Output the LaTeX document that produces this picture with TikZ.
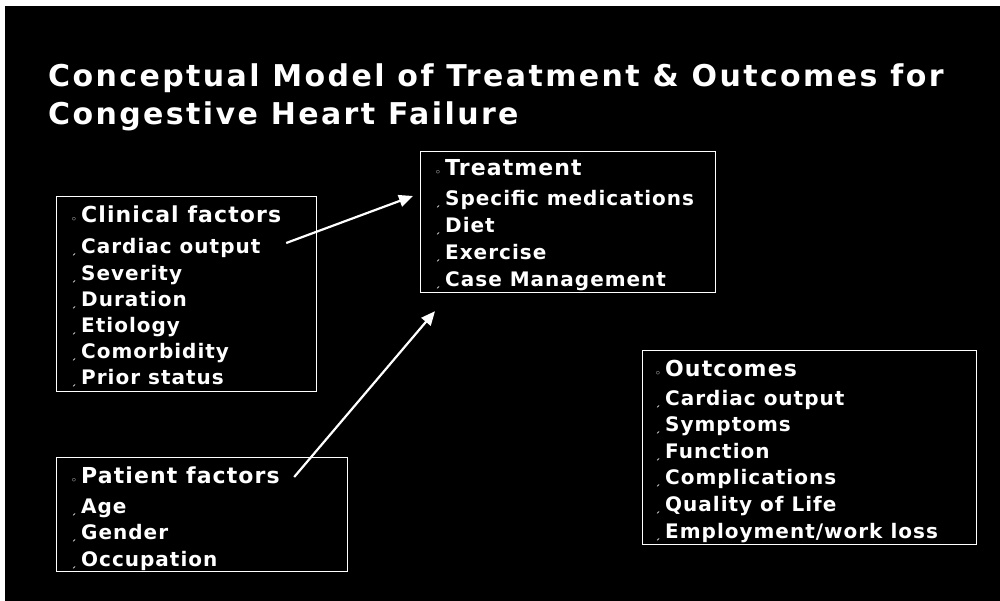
\documentclass[tikz,border=0pt]{standalone}
\usepackage{fontspec}
\setmainfont{DejaVu Sans}
\newfontfamily\titlefont{DejaVu Sans Bold}[LetterSpace=8]
\newfontfamily\boxfont{DejaVu Sans Bold}[LetterSpace=5]
\usetikzlibrary{arrows.meta}

\newcommand{\hdbul}{\makebox[10pt][l]{\fontsize{9}{9}\selectfont ◦}}
\newcommand{\itbul}{\makebox[10pt][l]{\fontsize{10}{10}\selectfont ˏ}}

\begin{document}
\begin{tikzpicture}
  [x=1pt, y=-1pt,
   title/.style={text=white, anchor=base west, inner sep=0pt, font=\titlefont\fontsize{30}{34}\selectfont},
   box/.style={draw=white, line width=1.2pt, anchor=north west, inner sep=0pt},
   head/.style={text=white, anchor=base west, inner sep=0pt, font=\boxfont\fontsize{22}{26}\selectfont},
   entry/.style={text=white, anchor=base west, inner sep=0pt, font=\boxfont\fontsize{20}{24}\selectfont},
   link/.style={draw=white, line width=2.2pt, -{Triangle[length=14pt,width=12pt]}}]
  \fill[white] (0,0) rectangle (1000,601);
  \fill[black] (5,6) rectangle (1000,601);
  \useasboundingbox (0,0) rectangle (1000,601);

  % title
  \node[title] (title1) at (48,87) {Conceptual Model of Treatment \& Outcomes for};
  \node[title] (title2) at (48,125) {Congestive Heart Failure};

  % clinical factors
  \node[box, minimum width=260pt, minimum height=195pt] (clin) at (56,196) {};
  \node[head] (clinhd) at (71,223) {\hdbul Clinical factors};
  \foreach \t [count=\i] in {Cardiac output, Severity, Duration, Etiology, Comorbidity, Prior status}
    \node[entry] (clin\i) at (71,{254+26*(\i-1)}) {\itbul\t};

  % treatment
  \node[box, minimum width=295pt, minimum height=141pt] (treat) at (420,151) {};
  \node[head] (treathd) at (435,176) {\hdbul Treatment};
  \foreach \t [count=\i] in {Specific medications, Diet, Exercise, Case Management}
    \node[entry] (treat\i) at (435,{206+26.7*(\i-1)}) {\itbul\t};

  % outcomes
  \node[box, minimum width=334pt, minimum height=194pt] (outc) at (642,350) {};
  \node[head] (outchd) at (655,376) {\hdbul Outcomes};
  \foreach \t [count=\i] in {Cardiac output, Symptoms, Function, Complications, Quality of Life, Employment/work loss}
    \node[entry] (outc\i) at (655,{405+26.6*(\i-1)}) {\itbul\t};

  % patient factors
  \node[box, minimum width=291pt, minimum height=114pt] (pat) at (56,457) {};
  \node[head] (pathd) at (71,483) {\hdbul Patient factors};
  \foreach \t [count=\i] in {Age, Gender, Occupation}
    \node[entry] (pat\i) at (71,{513+26.5*(\i-1)}) {\itbul\t};

  % arrows into treatment
  \coordinate (clinout) at ([shift={(-31,47)}]clin.north east);
  \coordinate (patout) at ([shift={(-54,20)}]pat.north east);
  \draw[link] (clinout) -- ([shift={(-7,45)}]treat.north west);
  \draw[link] (patout) -- ([shift={(15,18)}]treat.south west);
\end{tikzpicture}
\end{document}
